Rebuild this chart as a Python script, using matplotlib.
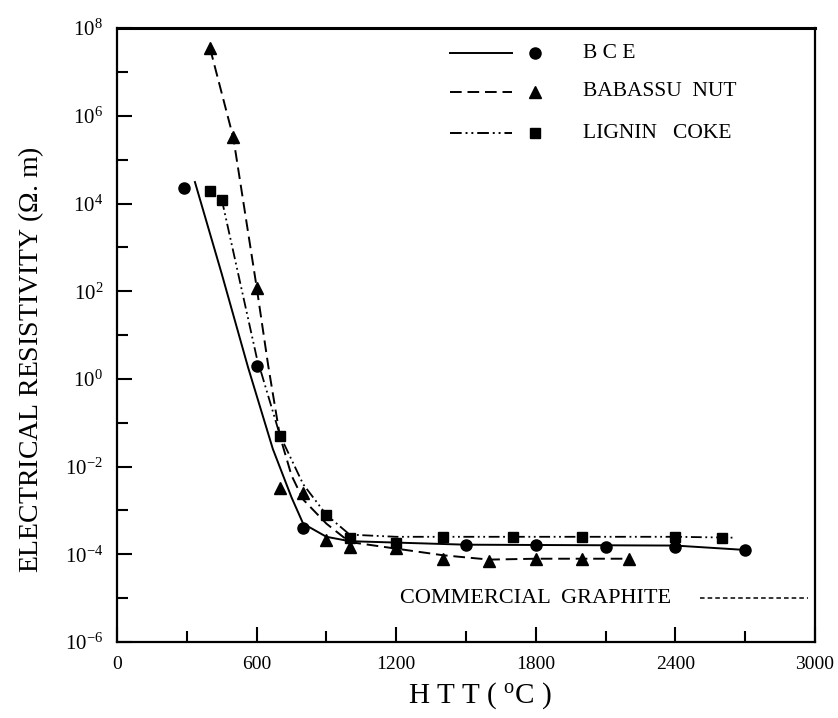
import numpy as np
import matplotlib
matplotlib.use("Agg")
import matplotlib.pyplot as plt
from matplotlib.ticker import FixedLocator, NullFormatter

plt.rcParams['font.family'] = ['Liberation Serif', 'DejaVu Serif']
plt.rcParams['mathtext.fontset'] = 'custom'
plt.rcParams['mathtext.rm'] = 'Liberation Serif'

# measured points (HTT in C, resistivity in ohm.m)
bce_x = [290, 600, 800, 1500, 1800, 2100, 2400, 2700]
bce_y = [2.3e4, 2.0, 4e-4, 1.6e-4, 1.6e-4, 1.5e-4, 1.5e-4, 1.25e-4]

bab_x = [400, 500, 600, 700, 800, 900, 1000, 1200, 1400, 1600, 1800, 2000, 2200]
bab_y = [3.5e7, 3.3e5, 1.2e2, 3.2e-3, 2.5e-3, 2.1e-4, 1.5e-4, 1.4e-4,
         8e-5, 7e-5, 8e-5, 8e-5, 8e-5]

lig_x = [400, 450, 700, 900, 1000, 1200, 1400, 1700, 2000, 2400, 2600]
lig_y = [1.9e4, 1.2e4, 5e-2, 8e-4, 2.3e-4, 1.8e-4, 2.5e-4, 2.5e-4, 2.5e-4,
         2.5e-4, 2.4e-4]

bce_fit_x = [335, 450, 563, 670, 750, 800, 900, 1000, 1500, 2400, 2700]
bce_fit_lg = [4.49, 2.4, 0.27, -1.6, -2.7, -3.3, -3.6, -3.7, -3.78, -3.8, -3.9]

bab_fit_x = [400, 500, 600, 650, 700, 750, 800, 900, 1000, 1200, 1400, 1600, 1800, 2200]
bab_fit_lg = [7.54, 5.5, 2.1, 0.3, -1.3, -2.2, -2.75, -3.3, -3.72, -3.87,
              -4.02, -4.12, -4.1, -4.1]

lig_fit_x = [450, 600, 700, 800, 900, 1000, 1200, 1700, 2400, 2650]
lig_fit_lg = [4.1, 0.5, -1.28, -2.4, -3.1, -3.55, -3.6, -3.6, -3.6, -3.62]

graphite_x = [2505, 2970]
graphite_y = [1e-5, 1e-5]

xticks = [0, 600, 1200, 1800, 2400, 3000]
ydecades = [-6, -4, -2, 0, 2, 4, 6, 8]

fig = plt.figure(figsize=(8.38, 7.18), dpi=100)
ax = fig.add_axes([0.1396, 0.1058, 0.833, 0.855])

ax.plot(bce_fit_x, 10.0 ** np.array(bce_fit_lg), '-', color='black', lw=1.4)
ax.plot(bab_fit_x, 10.0 ** np.array(bab_fit_lg), color='black', lw=1.4,
        dashes=(6, 3))
ax.plot(lig_fit_x, 10.0 ** np.array(lig_fit_lg), color='black', lw=1.3,
        dashes=(6, 2, 1, 2, 1, 2))

ax.plot(bce_x, bce_y, 'o', color='black', ms=8, ls='none')
ax.plot(bab_x, bab_y, '^', color='black', ms=9, ls='none')
ax.plot(lig_x, lig_y, 's', color='black', ms=7.5, ls='none')

ax.plot(graphite_x, graphite_y, color='black', lw=1.1, dashes=(3, 2))
ax.text(1216, 1e-5, 'COMMERCIAL  GRAPHITE', fontsize=16, va='center', ha='left')

# legend drawn by hand (line, then marker, then text)
rows = [('B C E', '-', None, 'o', 8), ('BABASSU  NUT', '--', (6, 3), '^', 9),
        ('LIGNIN   COKE', '-', (6, 2, 1, 2, 1, 2), 's', 7.5)]
yy = [0.959, 0.896, 0.829]
for (lab, ls, dsh, mk, ms), y in zip(rows, yy):
    ln, = ax.plot([0.477, 0.566], [y, y], color='black', lw=1.4,
                  transform=ax.transAxes, clip_on=False)
    if dsh is not None:
        ln.set_dashes(dsh)
    ax.plot([0.599], [y], mk, color='black', ms=ms, transform=ax.transAxes)
    ax.text(0.668, y, lab, fontsize=15.5, va='center', ha='left',
            transform=ax.transAxes)

ax.set_yscale('log')
ax.set_xlim(0, 3000)
ax.set_ylim(1e-6, 1e8)

ax.xaxis.set_major_locator(FixedLocator(xticks))
ax.xaxis.set_minor_locator(FixedLocator([300, 900, 1500, 2100, 2700]))
ax.set_xticklabels([str(v) for v in xticks], fontsize=14)

ax.yaxis.set_major_locator(FixedLocator([10.0 ** d for d in ydecades]))
ax.yaxis.set_minor_locator(FixedLocator([10.0 ** d for d in range(-5, 8, 2)]))
ax.yaxis.set_minor_formatter(NullFormatter())
ax.set_yticklabels([r'$\mathregular{10^{%d}}$' % d for d in ydecades], fontsize=15)

ax.tick_params(which='both', direction='in', top=False, right=False, width=1.5)
ax.tick_params(which='major', length=11, pad=10)
ax.tick_params(which='minor', length=8)

for s in ax.spines.values():
    s.set_linewidth(1.6)
ax.spines['top'].set_linewidth(2.2)

ax.set_xlabel(r'H T T ( $\mathregular{^{o}}$C )', fontsize=21, labelpad=8)
ax.xaxis.set_label_coords(0.52, -0.062)
ax.set_ylabel(r'ELECTRICAL RESISTIVITY ($\Omega$. m)', fontsize=20)
ax.yaxis.set_label_coords(-0.102, 0.46)

fig.savefig('out.png', dpi=100)
